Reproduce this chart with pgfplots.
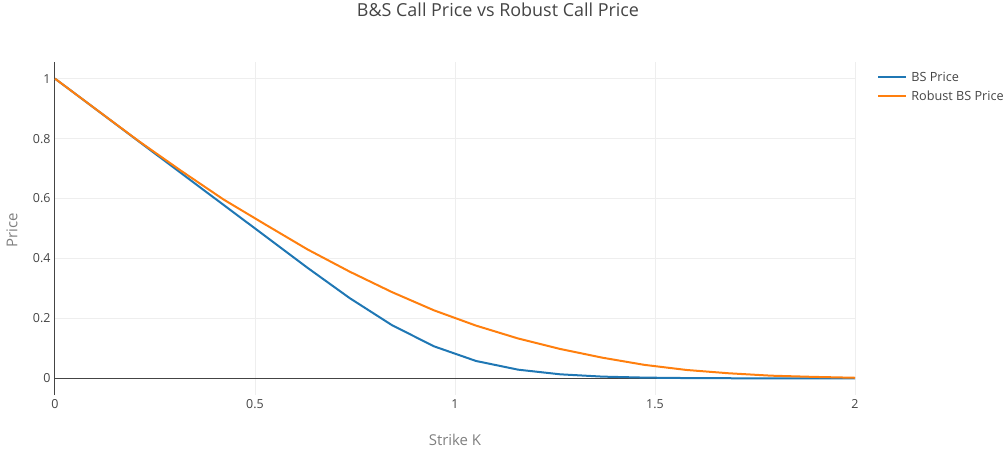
\documentclass[border=0pt]{standalone}
\usepackage{fontspec}
\setmainfont{Open Sans}
\usepackage{pgfplots}
\pgfplotsset{compat=1.18}
\definecolor{bsblue}{HTML}{1F77B4}
\definecolor{rborange}{HTML}{FF7F0E}
\definecolor{txt}{HTML}{444444}
\definecolor{axtitle}{HTML}{7F7F7F}
\definecolor{gridc}{HTML}{EEEEEE}
\begin{document}
\begin{tikzpicture}
\useasboundingbox (-55bp,-57bp) rectangle (951bp,395bp);
\begin{axis}[
  scale only axis,
  width=800bp, height=333bp,
  xmin=0, xmax=2, ymin=-0.0555, ymax=1.0555,
  axis line style={draw=none},
  xtick={0,0.5,1,1.5,2},
  xticklabels={0,0.5,1,1.5,2},
  ytick={0,0.2,0.4,0.6,0.8,1},
  yticklabels={0,0.2,0.4,0.6,0.8,1},
  grid=major,
  major grid style={color=gridc, line width=1bp},
  tick style={draw=none},
  ticklabel style={font=\fontsize{12.5}{14}\selectfont, text=txt},
  xticklabel style={yshift=-1bp},
  yticklabel style={xshift=-1bp},
  /pgf/number format/assume math mode=true,
  clip=false,
  legend style={
    at={(rel axis cs:1.024,0.983)}, anchor=north west,
    draw=none, fill=none,
    font=\fontsize{12.7}{14}\selectfont, text=txt,
    row sep=4bp,
    legend cell align=left,
    nodes={inner xsep=4bp},
  },
  legend image code/.code={\draw[#1, line width=2bp] (0bp,0bp) -- (28bp,0bp);},
]
\draw[color=txt, line width=1bp] (axis cs:0,-0.0555) -- (axis cs:0,1.0555);
\draw[color=txt, line width=1bp] (axis cs:0,0) -- (axis cs:2,0);
\addplot[color=bsblue, line width=2bp, line join=round] coordinates {
(0.0000,1.0000) (0.1053,0.8947) (0.2105,0.7895) (0.3158,0.6842)
(0.4211,0.5790) (0.5263,0.4740) (0.6316,0.3686) (0.7368,0.2677)
(0.8421,0.1778) (0.9474,0.1069) (1.0526,0.0580) (1.1579,0.0290)
(1.2632,0.0135) (1.3684,0.0058) (1.4737,0.0025) (1.5789,0.0010)
(1.6842,0.0004) (1.7895,0.00015) (1.8947,0.00005) (2.0000,0.00002)
};
\addlegendentry{BS Price}
\addplot[color=rborange, line width=2bp, line join=round] coordinates {
(0.0000,1.0000) (0.1053,0.8950) (0.2105,0.7905) (0.3158,0.6920)
(0.4211,0.5970) (0.5263,0.5130) (0.6316,0.4300) (0.7368,0.3560)
(0.8421,0.2880) (0.9474,0.2270) (1.0526,0.1760) (1.1579,0.1330)
(1.2632,0.0980) (1.3684,0.0690) (1.4737,0.0450) (1.5789,0.0280)
(1.6842,0.0170) (1.7895,0.0090) (1.8947,0.0050) (2.0000,0.0020)
};
\addlegendentry{Robust BS Price}
\end{axis}
\node[text=txt, font=\fontsize{18}{21}\selectfont] at (443bp,385bp) {B\&S Call Price vs Robust Call Price};
\node[text=axtitle, font=\fontsize{15}{17}\selectfont] at (400bp,-45bp) {Strike K};
\node[text=axtitle, font=\fontsize{15}{17}\selectfont, rotate=90] at (-43bp,165bp) {Price};
\end{tikzpicture}
\end{document}
